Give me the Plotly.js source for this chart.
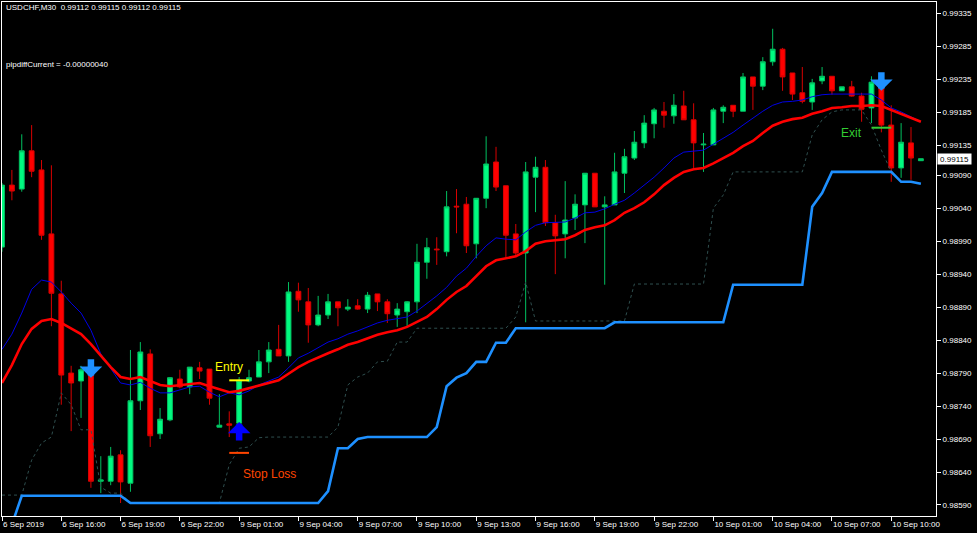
<!DOCTYPE html>
<html>
<head>
<meta charset="utf-8">
<script src="https://cdn.plot.ly/plotly-3.0.1.min.js"></script>
<style>
  html, body { margin: 0; padding: 0; background: #000; }
  #chart { width: 977px; height: 533px; }
</style>
</head>
<body>
<div id="chart"></div>
<script>
// ---- Data (USDCHF M30) ----
const timeLabels = ['6 Sep 2019','6 Sep 16:00','6 Sep 19:00','6 Sep 22:00','9 Sep 01:00','9 Sep 04:00',
  '9 Sep 07:00','9 Sep 10:00','9 Sep 13:00','9 Sep 16:00','9 Sep 19:00','9 Sep 22:00',
  '10 Sep 01:00','10 Sep 04:00','10 Sep 07:00','10 Sep 10:00'];
const barsPerLabel = 6;

const priceTicks = [0.99335,0.99285,0.99235,0.99185,0.99135,0.99090,0.99040,0.98990,
  0.98940,0.98890,0.98840,0.98790,0.98740,0.98690,0.98640,0.98590];

const open = [0.98981,0.99075,0.99069,0.99127,0.99098,0.99001,0.98910,0.98790,0.98778,0.98787,
  0.98626,0.98626,0.98666,0.98623,0.98748,0.98819,0.98698,0.98719,0.98781,0.98769,
  0.98798,0.98796,0.98708,0.98713,0.98714,0.98778,0.98784,0.98807,0.98826,0.98816,
  0.98914,0.98898,0.98863,0.98878,0.98898,0.98887,0.98892,0.98887,0.98910,0.98898,
  0.98878,0.98883,0.98898,0.98958,0.98978,0.98974,0.99043,0.99046,0.98986,0.99055,
  0.99110,0.99074,0.99001,0.98972,0.99087,0.99102,0.99018,0.99001,0.99025,0.99045,
  0.99093,0.99042,0.99045,0.99093,0.99116,0.99139,0.99168,0.99187,0.99180,0.99195,
  0.99174,0.99136,0.99136,0.99187,0.99196,0.99187,0.99239,0.99225,0.99262,0.99281,
  0.99245,0.99215,0.99201,0.99233,0.99240,0.99218,0.99224,0.99210,0.99192,0.99224,
  0.99166,0.99101,0.99139,0.99112];
const high = [0.99078,0.99098,0.99152,0.99166,0.99113,0.99105,0.98930,0.98801,0.98801,0.98792,
  0.98664,0.98678,0.98673,0.98825,0.98837,0.98826,0.98737,0.98784,0.98795,0.98799,
  0.98807,0.98796,0.98758,0.98732,0.98784,0.98795,0.98825,0.98837,0.98863,0.98928,
  0.98927,0.98919,0.98907,0.98910,0.98898,0.98902,0.98902,0.98913,0.98910,0.98902,
  0.98896,0.98899,0.98986,0.98995,0.98996,0.99066,0.99069,0.99057,0.99055,0.99149,
  0.99133,0.99074,0.99016,0.99110,0.99118,0.99113,0.99030,0.99081,0.99061,0.99093,
  0.99093,0.99058,0.99124,0.99130,0.99157,0.99181,0.99192,0.99201,0.99213,0.99218,
  0.99199,0.99154,0.99192,0.99196,0.99196,0.99245,0.99239,0.99269,0.99312,0.99283,
  0.99245,0.99254,0.99236,0.99254,0.99240,0.99224,0.99233,0.99215,0.99240,0.99234,
  0.99196,0.99169,0.99163,0.99115];
const low = [0.98974,0.99052,0.99065,0.99087,0.98992,0.98861,0.98742,0.98702,0.98722,0.98616,
  0.98608,0.98620,0.98593,0.98610,0.98734,0.98678,0.98690,0.98717,0.98767,0.98758,
  0.98781,0.98742,0.98708,0.98693,0.98704,0.98776,0.98784,0.98790,0.98816,0.98807,
  0.98883,0.98836,0.98861,0.98872,0.98861,0.98884,0.98886,0.98881,0.98884,0.98866,
  0.98860,0.98860,0.98881,0.98933,0.98954,0.98967,0.99002,0.98972,0.98964,0.99040,
  0.99066,0.98966,0.98966,0.98867,0.99034,0.99013,0.98940,0.98964,0.99007,0.98987,
  0.99042,0.98924,0.99045,0.99063,0.99113,0.99131,0.99146,0.99162,0.99168,0.99174,
  0.99101,0.99095,0.99136,0.99169,0.99178,0.99187,0.99189,0.99219,0.99256,0.99218,
  0.99204,0.99199,0.99189,0.99228,0.99212,0.99218,0.99209,0.99171,0.99169,0.99155,
  0.99080,0.99086,0.99083,0.99112];
const close = [0.99075,0.99066,0.99127,0.99096,0.98999,0.98911,0.98787,0.98775,0.98795,0.98626,
  0.98628,0.98664,0.98625,0.98748,0.98822,0.98695,0.98720,0.98783,0.98769,0.98799,
  0.98793,0.98752,0.98711,0.98711,0.98779,0.98783,0.98807,0.98825,0.98816,0.98913,
  0.98901,0.98863,0.98878,0.98898,0.98889,0.98890,0.98887,0.98908,0.98898,0.98880,
  0.98887,0.98898,0.98958,0.98980,0.98977,0.99042,0.99042,0.98983,0.99055,0.99107,
  0.99072,0.98999,0.98972,0.99095,0.99102,0.99018,0.98998,0.99022,0.99046,0.99093,
  0.99042,0.99045,0.99095,0.99118,0.99140,0.99169,0.99189,0.99181,0.99196,0.99174,
  0.99139,0.99137,0.99189,0.99193,0.99187,0.99239,0.99225,0.99262,0.99281,0.99239,
  0.99213,0.99202,0.99230,0.99240,0.99218,0.99224,0.99210,0.99190,0.99231,0.99166,
  0.99101,0.99140,0.99116,0.99115];

const maRed = [0.98775,0.98802,0.98834,0.98857,0.98869,0.98872,0.98866,0.98858,0.98849,0.98834,
  0.98816,0.98799,0.98784,0.98781,0.98784,0.98778,0.98772,0.98770,0.98772,0.98773,
  0.98775,0.98770,0.98766,0.98761,0.98763,0.98767,0.98770,0.98775,0.98779,0.98789,
  0.98799,0.98807,0.98814,0.98820,0.98826,0.98833,0.98837,0.98843,0.98848,0.98852,
  0.98855,0.98860,0.98867,0.98875,0.98887,0.98901,0.98913,0.98922,0.98937,0.98952,
  0.98961,0.98964,0.98967,0.98975,0.98986,0.98990,0.98992,0.98993,0.98999,0.99007,
  0.99011,0.99014,0.99022,0.99033,0.99040,0.99049,0.99061,0.99075,0.99086,0.99095,
  0.99099,0.99101,0.99108,0.99116,0.99124,0.99134,0.99142,0.99154,0.99165,0.99171,
  0.99175,0.99177,0.99183,0.99187,0.99192,0.99193,0.99195,0.99195,0.99196,0.99195,
  0.99189,0.99184,0.99178,0.99171];
const maBlue = [0.98826,0.98849,0.98881,0.98917,0.98931,0.98928,0.98913,0.98896,0.98881,0.98855,
  0.98819,0.98796,0.98775,0.98772,0.98776,0.98767,0.98760,0.98760,0.98764,0.98769,
  0.98770,0.98761,0.98754,0.98760,0.98757,0.98763,0.98772,0.98778,0.98784,0.98798,
  0.98813,0.98820,0.98828,0.98837,0.98842,0.98849,0.98854,0.98860,0.98866,0.98870,
  0.98872,0.98875,0.98884,0.98895,0.98907,0.98920,0.98937,0.98949,0.98967,0.98983,
  0.98995,0.98993,0.98992,0.99004,0.99014,0.99018,0.99018,0.99019,0.99025,0.99033,
  0.99034,0.99039,0.99046,0.99052,0.99063,0.99075,0.99087,0.99101,0.99116,0.99125,
  0.99127,0.99128,0.99137,0.99146,0.99155,0.99166,0.99177,0.99187,0.99196,0.99201,
  0.99202,0.99204,0.99209,0.99212,0.99213,0.99213,0.99213,0.99212,0.99213,0.99204,
  0.99192,0.99186,0.99178,0.99171];
const stopLine = [null,0.98560,0.98604,0.98604,0.98604,0.98604,0.98604,0.98604,0.98604,0.98604,
  0.98604,0.98604,0.98604,0.98593,0.98593,0.98593,0.98593,0.98593,0.98593,0.98593,
  0.98593,0.98593,0.98593,0.98593,0.98593,0.98593,0.98593,0.98593,0.98593,0.98593,
  0.98593,0.98593,0.98593,0.98611,0.98676,0.98676,0.98690,0.98693,0.98693,0.98693,
  0.98693,0.98693,0.98693,0.98693,0.98708,0.98770,0.98783,0.98790,0.98807,0.98807,
  0.98836,0.98836,0.98858,0.98858,0.98858,0.98858,0.98858,0.98858,0.98858,0.98858,
  0.98858,0.98858,0.98867,0.98867,0.98867,0.98867,0.98867,0.98867,0.98867,0.98867,
  0.98867,0.98867,0.98867,0.98867,0.98924,0.98924,0.98924,0.98924,0.98924,0.98924,
  0.98924,0.98924,0.99042,0.99063,0.99095,0.99095,0.99095,0.99095,0.99095,0.99095,
  0.99095,0.99080,0.99080,0.99077];
const trailLine = [0.98605,0.98605,0.98605,0.98658,0.98684,0.98693,0.98760,0.98742,0.98704,0.98704,
  0.98617,0.98608,0.98608,0.98593,0.98593,0.98593,0.98593,0.98593,0.98593,0.98593,
  0.98593,0.98593,0.98593,0.98651,0.98676,0.98678,0.98692,0.98693,0.98693,0.98693,
  0.98693,0.98693,0.98693,0.98693,0.98708,0.98772,0.98784,0.98790,0.98807,0.98808,
  0.98837,0.98837,0.98858,0.98858,0.98858,0.98858,0.98858,0.98858,0.98858,0.98858,
  0.98858,0.98858,0.98875,0.98928,0.98869,0.98869,0.98869,0.98869,0.98869,0.98869,
  0.98869,0.98869,0.98869,0.98869,0.98925,0.98925,0.98925,0.98925,0.98925,0.98925,
  0.98925,0.98925,0.99040,0.99060,0.99095,0.99095,0.99095,0.99095,0.99095,0.99095,
  0.99095,0.99095,0.99151,0.99174,0.99186,0.99189,0.99189,0.99189,0.99166,0.99128,
  0.99095,0.99080,0.99080,0.99077];

// signals: [bar index, price at arrow tip]
const sellSignals = [[9, 0.98783], [89, 0.99218]];
const buySignals = [[24, 0.98716]];
// trade levels: [bar index, price]
const entryLevel = [24, 0.98779];
const stopLevel = [24, 0.98669];
const exitLevel = [89, 0.99162];
const notes = [
  {text: 'Entry', bar: 23, price: 0.98799, color: '#ffff00'},
  {text: 'Stop Loss', bar: 27.1, price: 0.98637, color: '#ff4500'},
  {text: 'Exit', bar: 86, price: 0.99154, color: '#32cd32'}
];
const header = 'USDCHF,M30  0.99112 0.99115 0.99112 0.99115';
const infoLine = 'pipdiffCurrent = -0.00000040';
const currentPrice = 0.99115;

// ---- Build chart ----
const idx = close.map((_, i) => i);
const FONT = 'Liberation Sans, Arial, sans-serif';

const traces = [
  {
    type: 'candlestick', x: idx, open: open, high: high, low: low, close: close,
    increasing: {fillcolor: '#00fa80', line: {color: '#00c060', width: 1}},
    decreasing: {fillcolor: '#ff0000', line: {color: '#d80000', width: 1}},
    whiskerwidth: 0, hoverinfo: 'skip', showlegend: false
  },
  {type: 'scatter', mode: 'lines', x: idx, y: trailLine,
   line: {color: '#2f4f4f', width: 1, dash: 'dot'}, hoverinfo: 'skip', showlegend: false},
  {type: 'scatter', mode: 'lines', x: idx, y: stopLine,
   line: {color: '#1e90ff', width: 2.6}, hoverinfo: 'skip', showlegend: false},
  {type: 'scatter', mode: 'lines', x: idx, y: maBlue,
   line: {color: '#0000e6', width: 1}, hoverinfo: 'skip', showlegend: false},
  {type: 'scatter', mode: 'lines', x: idx, y: maRed,
   line: {color: '#ff0000', width: 2.6}, hoverinfo: 'skip', showlegend: false}
];

const annotations = [];
sellSignals.forEach(s => annotations.push({
  x: s[0], y: s[1], xref: 'x', yref: 'y', text: '', showarrow: true,
  ax: 0, ay: -20, arrowhead: 1, arrowwidth: 6.5, arrowsize: 0.58, arrowcolor: '#1e90ff', standoff: 0
}));
buySignals.forEach(s => annotations.push({
  x: s[0], y: s[1], xref: 'x', yref: 'y', text: '', showarrow: true,
  ax: 0, ay: 20, arrowhead: 1, arrowwidth: 6.5, arrowsize: 0.58, arrowcolor: '#0000ff', standoff: 0
}));
notes.forEach(n => annotations.push({
  x: n.bar, y: n.price, xref: 'x', yref: 'y', text: n.text, showarrow: false,
  font: {family: FONT, size: 12, color: n.color}
}));
annotations.push({
  xref: 'paper', yref: 'paper', x: 0, y: 1, xanchor: 'left', yanchor: 'middle',
  xshift: 2, yshift: -5.5, text: header, showarrow: false,
  font: {family: FONT, size: 8, color: '#ffffff'}
});
annotations.push({
  xref: 'paper', yref: 'paper', x: 0, y: 1, xanchor: 'left', yanchor: 'middle',
  xshift: 2, yshift: -62.5, text: infoLine, showarrow: false,
  font: {family: FONT, size: 8, color: '#ffffff'}
});
annotations.push({
  xref: 'paper', yref: 'y', x: 1, y: currentPrice, xanchor: 'left', yanchor: 'middle',
  xshift: 1, text: currentPrice.toFixed(5), showarrow: false, bgcolor: '#ffffff',
  width: 33, height: 10, borderpad: 0, align: 'center',
  font: {family: FONT, size: 8, color: '#000000'}
});

const levelShape = (lvl, color) => ({
  type: 'line', xref: 'x', yref: 'y', x0: lvl[0] - 1, x1: lvl[0] + 1, y0: lvl[1], y1: lvl[1],
  line: {color: color, width: 2}
});
const shapes = [
  levelShape(entryLevel, '#ffff00'),
  levelShape(stopLevel, '#ff4500'),
  levelShape(exitLevel, '#33cc33')
];

const layout = {
  width: 977, height: 533,
  margin: {l: 2, r: 41, t: 2, b: 17, pad: 0},
  paper_bgcolor: '#000000', plot_bgcolor: '#000000',
  showlegend: false,
  font: {family: FONT, size: 8, color: '#ffffff'},
  xaxis: {
    range: [0, 94.53], fixedrange: true,
    showgrid: false, zeroline: false,
    showline: true, mirror: true, linecolor: '#ffffff', linewidth: 1,
    ticks: 'outside', ticklen: 4, tickcolor: '#ffffff', tickwidth: 1,
    tickvals: timeLabels.map((_, k) => k * barsPerLabel), ticktext: timeLabels,
    ticklabelposition: 'outside right',
    tickfont: {family: FONT, size: 8, color: '#ffffff'},
    rangeslider: {visible: false}
  },
  yaxis: {
    side: 'right', range: [0.985733, 0.993526], fixedrange: true,
    showgrid: false, zeroline: false,
    showline: true, mirror: true, linecolor: '#ffffff', linewidth: 1,
    ticks: 'outside', ticklen: 4, tickcolor: '#ffffff', tickwidth: 1,
    tickvals: priceTicks, ticktext: priceTicks.map(v => v.toFixed(5)),
    tickfont: {family: FONT, size: 8, color: '#ffffff'}
  },
  annotations: annotations,
  shapes: shapes
};

Plotly.newPlot('chart', traces, layout, {staticPlot: true, displayModeBar: false});
</script>
</body>
</html>
